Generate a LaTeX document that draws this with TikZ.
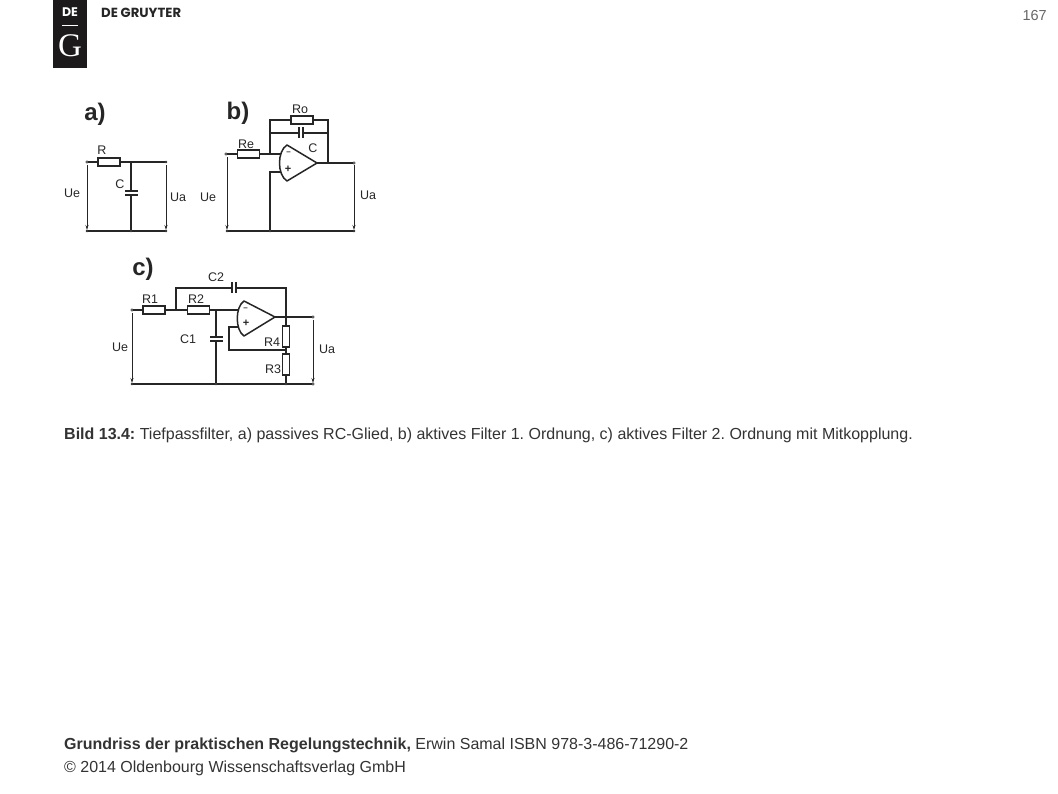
\documentclass[tikz,border=0pt]{standalone}
\usepackage{fontspec}
\setmainfont{Liberation Sans}
\newfontfamily\logosans{Poppins}
\newfontfamily\logoserif{Liberation Serif}
\usetikzlibrary{arrows.meta}
\definecolor{ink}{HTML}{262626}
\definecolor{txt}{HTML}{333333}
\definecolor{logoblack}{HTML}{1C1A1B}
\tikzset{
  wire/.style={draw=ink,line width=1.25pt},
  vmeas/.style={draw=ink,line width=0.85pt,-{Stealth[length=5pt,width=3pt]}},
  reshor/.style={draw=ink,line width=1.25pt,fill=white,minimum width=22pt,minimum height=8pt,inner sep=0pt,outer sep=0pt},
  resver/.style={draw=ink,line width=1.25pt,fill=white,minimum width=7pt,minimum height=21pt,inner sep=0pt,outer sep=0pt},
  platev/.style={fill=ink,minimum width=1.5pt,minimum height=11pt,inner sep=0pt,outer sep=0pt},
  plateh/.style={fill=ink,minimum width=13pt,minimum height=1.5pt,inner sep=0pt,outer sep=0pt},
  term/.style={circle,draw=ink,fill=white,line width=0.6pt,minimum size=2.6pt,inner sep=0pt,outer sep=0pt},
  dotj/.style={circle,fill=ink,minimum size=2.6pt,inner sep=0pt,outer sep=0pt},
  lab/.style={text=ink,font=\fontsize{12.5}{14}\selectfont,inner sep=0pt},
  panel/.style={text=ink,font=\fontsize{24}{27}\bfseries\selectfont,inner sep=0pt},
  sign/.style={text=ink,font=\fontsize{11}{12}\bfseries\selectfont,inner sep=0pt},
  minussign/.style={text=ink,font=\fontsize{8}{10}\bfseries\selectfont,inner sep=0pt},
  opamp/.style={draw=ink,line width=1.5pt,fill=white,line join=round},
  page/.style={text=txt,font=\fontsize{16}{19}\selectfont,inner sep=0pt,anchor=base west},
}
\begin{document}
\begin{tikzpicture}[x=1pt,y=-1pt]
\useasboundingbox (0,0) rectangle (1058,794);
% logo
\node[fill=logoblack,minimum width=34pt,minimum height=68pt,inner sep=0pt,outer sep=0pt] (logo) at (70,34) {};
\node[text=white,inner sep=0pt,font=\logosans\fontsize{12.5}{14}\bfseries\selectfont] (logoDE) at (70,12.5) {DE};
\node[fill=white,minimum width=16pt,minimum height=1.3pt,inner sep=0pt] (logobar) at (70,25.5) {};
\node[text=white,inner sep=0pt,font=\logoserif\fontsize{33}{35}\selectfont] (logoG) at (70,46) {G};
\node[text=ink,inner sep=0pt,anchor=west,font=\logosans\fontsize{13.2}{15}\bfseries\selectfont] (logoname) at (101,12.5) {DE GRUYTER};
\node[text=txt!75,inner sep=0pt,anchor=east,font=\fontsize{14.5}{17}\selectfont] (pnum) at (1047,16) {167};

% ---------- panel a
\node[panel] (la) at (95,114) {a)};
\node[term] (a1) at (87,162) {};
\node[reshor] (aR) at (109,162) {};
\coordinate (aJ) at (131,162);
\node[dotj] (a2) at (166,162) {};
\node[plateh] (aC1) at (131,191) {};
\node[plateh] (aC2) at (131,195) {};
\node[dotj] (a3) at (87,231) {};
\node[dotj] (aK) at (131,231) {};
\node[dotj] (a4) at (166,231) {};
\coordinate (a1s) at (87,165);
\coordinate (a1e) at (87,230);
\coordinate (a2s) at (166,165);
\coordinate (a2e) at (166,230);
\path[wire] (a1) -- (aR) -- (aJ) -- (a2);
\path[wire] (aJ) -- (aC1);
\path[wire] (aC2) -- (aK);
\path[wire] (a3) -- (aK) -- (a4);
\path[vmeas] (a1s) -- (a1e);
\path[vmeas] (a2s) -- (a2e);
\node[lab] (tR) at (102,150) {R};
\node[lab] (tC) at (120,184) {C};
\node[lab] (tUe) at (72,193) {Ue};
\node[lab] (tUa) at (178,197) {Ua};

% ---------- panel b
\node[panel] (lb) at (238,113) {b)};
\node[term] (b1) at (226,154) {};
\node[reshor] (bRe) at (248.5,154) {};
\coordinate (bJ) at (270,154);
\coordinate (bT) at (270,120);
\coordinate (bC) at (270,133);
\node[reshor] (bRo) at (302,120) {};
\coordinate (bTr) at (328,120);
\coordinate (bCr) at (328,133);
\node[platev] (bC1) at (299,133) {};
\node[platev] (bC2) at (303,133) {};
\coordinate (bOut) at (328,163);
\node[term] (b2) at (354,163) {};
\coordinate (bTip) at (317,163);
\coordinate (bInM) at (281,154);
\coordinate (bInP) at (281,172);
\coordinate (bPc) at (270,172);
\node[dotj] (b3) at (227,231) {};
\node[dotj] (bK) at (270,231) {};
\node[dotj] (b4) at (354,231) {};
\coordinate (b1s) at (227,157);
\coordinate (b1e) at (227,230);
\coordinate (b2s) at (354,165);
\coordinate (b2e) at (354,230);
\path[wire] (b1) -- (bRe) -- (bJ) -- (bInM);
\path[wire] (bJ) -- (bT) -- (bRo) -- (bTr) -- (bOut);
\path[wire] (bC) -- (bC1);
\path[wire] (bC2) -- (bCr);
\path[wire] (bInP) -- (bPc) -- (bK);
\path[wire] (bTip) -- (b2);
\path[wire] (b3) -- (bK) -- (b4);
\path[vmeas] (b1s) -- (b1e);
\path[vmeas] (b2s) -- (b2e);
\path[opamp] (287,145) -- (bTip) -- (287,181) .. controls (277,175) and (277,151) .. cycle;
\node[minussign] (bm) at (288.5,153) {–};
\node[sign] (bp) at (288,169) {+};
\node[lab] (tRo) at (300,109) {Ro};
\node[lab] (tRe) at (246,144) {Re};
\node[lab] (tCb) at (313,148) {C};
\node[lab] (tUeb) at (208,197) {Ue};
\node[lab] (tUab) at (368,195) {Ua};

% ---------- panel c
\node[panel] (lc) at (143,269) {c)};
\node[term] (c1) at (132,310) {};
\node[reshor] (cR1) at (154,310) {};
\coordinate (cJ1) at (176,310);
\node[reshor] (cR2) at (198.5,310) {};
\coordinate (cJ2) at (216,310);
\coordinate (cInM) at (239,310);
\coordinate (cT) at (176,288);
\node[platev] (cC21) at (232,288) {};
\node[platev] (cC22) at (236,288) {};
\coordinate (cTr) at (286,288);
\coordinate (cOut) at (286,317);
\coordinate (cTip) at (275,317);
\node[term] (c2) at (313,317) {};
\node[plateh] (cC11) at (216,337) {};
\node[plateh] (cC12) at (216,341) {};
\node[resver] (cR4) at (286,336.5) {};
\node[resver] (cR3) at (286,364.5) {};
\coordinate (cFb) at (286,350);
\coordinate (cInP) at (239,327);
\coordinate (cPl) at (229,327);
\coordinate (cPb) at (229,350);
\node[dotj] (c3) at (132,384) {};
\node[dotj] (cK1) at (216,384) {};
\node[dotj] (cK2) at (286,384) {};
\node[term] (c4) at (313,384) {};
\coordinate (c1s) at (132,313);
\coordinate (c1e) at (132,383);
\coordinate (c2s) at (313,320);
\coordinate (c2e) at (313,383);
\path[wire] (c1) -- (cR1) -- (cJ1) -- (cR2) -- (cJ2) -- (cInM);
\path[wire] (cJ1) -- (cT) -- (cC21);
\path[wire] (cC22) -- (cTr) -- (cOut) -- (cR4);
\path[wire] (cTip) -- (c2);
\path[wire] (cJ2) -- (cC11);
\path[wire] (cC12) -- (cK1);
\path[wire] (cR4) -- (cFb) -- (cR3) -- (cK2);
\path[wire] (cInP) -- (cPl) -- (cPb) -- (cFb);
\path[wire] (c3) -- (cK1) -- (cK2) -- (c4);
\path[vmeas] (c1s) -- (c1e);
\path[vmeas] (c2s) -- (c2e);
\path[opamp] (244,301) -- (cTip) -- (244,336) .. controls (235,330) and (235,307) .. cycle;
\node[minussign] (cm) at (245.5,309) {–};
\node[sign] (cp) at (246,323) {+};
\node[lab] (tC2) at (216,277) {C2};
\node[lab] (tR1) at (150,299) {R1};
\node[lab] (tR2) at (196,299) {R2};
\node[lab] (tC1) at (188,339) {C1};
\node[lab] (tR4) at (272,342) {R4};
\node[lab] (tR3) at (273,369) {R3};
\node[lab] (tUec) at (120,347) {Ue};
\node[lab] (tUac) at (327,349) {Ua};

% ---------- text
\node[page] (caption) at (64,439) {\frenchspacing\textbf{Bild 13.4:} Tiefpassfilter, a) passives RC-Glied, b) aktives Filter 1. Ordnung, c) aktives Filter 2. Ordnung mit Mitkopplung.};
\node[page] (foot1) at (64,749) {\textbf{Grundriss der praktischen Regelungstechnik,} Erwin Samal ISBN 978-3-486-71290-2};
\node[page] (foot2) at (64,772) {© 2014 Oldenbourg Wissenschaftsverlag GmbH};
\end{tikzpicture}
\end{document}
